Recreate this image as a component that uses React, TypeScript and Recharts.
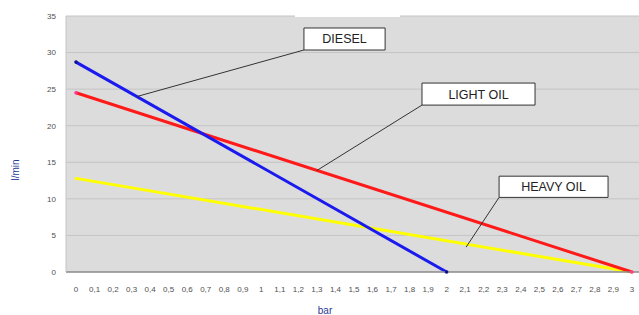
import React from "react";
import {
  LineChart,
  Line,
  XAxis,
  YAxis,
  CartesianGrid,
  ReferenceArea,
  ReferenceLine,
  Label,
} from "recharts";

const dieselPressure = [0, 2];
const dieselFlow = [28.7, 0];
const lightOilPressure = [0, 3];
const lightOilFlow = [24.5, 0];
const heavyOilPressure = [0, 3];
const heavyOilFlow = [12.8, 0];

const xTicks = [
  0, 0.1, 0.2, 0.3, 0.4, 0.5, 0.6, 0.7, 0.8, 0.9, 1, 1.1, 1.2, 1.3, 1.4, 1.5,
  1.6, 1.7, 1.8, 1.9, 2, 2.1, 2.2, 2.3, 2.4, 2.5, 2.6, 2.7, 2.8, 2.9, 3,
];
const yTicks = [0, 5, 10, 15, 20, 25, 30, 35];

const seriesNames = ["DIESEL", "LIGHT OIL", "HEAVY OIL"];

// callout boxes (data coordinates) and leader lines
const calloutBoxes = [
  { x1: 1.23, x2: 1.668, y1: 30.35, y2: 33.36 },
  { x1: 1.867, x2: 2.477, y1: 22.82, y2: 25.83 },
  { x1: 2.283, x2: 2.871, y1: 10.2, y2: 13.1 },
];
const leaderLines = [
  [{ x: 1.23, y: 30.35 }, { x: 0.33, y: 24.0 }],
  [{ x: 1.867, y: 22.82 }, { x: 1.3, y: 13.88 }],
  [{ x: 2.283, y: 10.2 }, { x: 2.105, y: 3.4 }],
];

const toRows = (xs: number[], ys: number[]) =>
  xs.map((x, i) => ({ x, y: ys[i] }));

const fmt = (v: number) => String(v).replace(".", ",");

export default function App() {
  const font = "'Liberation Sans', Arial, sans-serif";
  return (
    <div style={{ position: "absolute", left: 0, top: 0, width: 639, height: 315, background: "#fff" }}>
      <LineChart
        width={639}
        height={315}
        margin={{ top: 16, right: 0, left: 0, bottom: 13 }}
      >
        <CartesianGrid
          vertical={false}
          fill="#dcdcdc"
          stroke="#c4c4c4"
          horizontalValues={[5, 10, 15, 20, 25, 30, 35]}
        />
        <XAxis
          type="number"
          dataKey="x"
          domain={[-0.054, 3.038]}
          ticks={xTicks}
          tickFormatter={fmt}
          interval={0}
          tick={{ fontSize: 8, fill: "#505050", fontFamily: font }}
          tickLine={false}
          tickMargin={8}
          axisLine={{ stroke: "#8a8a8a", strokeWidth: 1.5 }}
          height={30}
          allowDataOverflow
        />
        <YAxis
          type="number"
          domain={[0, 35]}
          ticks={yTicks}
          tick={{ fontSize: 8, fill: "#505050", fontFamily: font }}
          tickLine={false}
          tickMargin={4}
          axisLine={{ stroke: "#c4c4c4" }}
          width={66}
        />
        <Line
          data={toRows(heavyOilPressure, heavyOilFlow)}
          dataKey="y"
          name={seriesNames[2]}
          stroke="#ffff00"
          strokeWidth={3}
          dot={{ r: 1.5, fill: "#ffff00", stroke: "none" }}
          isAnimationActive={false}
        />
        <Line
          data={toRows(lightOilPressure, lightOilFlow)}
          dataKey="y"
          name={seriesNames[1]}
          stroke="#ff1a1a"
          strokeWidth={3}
          dot={{ r: 1.8, fill: "#ff3399", stroke: "none" }}
          isAnimationActive={false}
        />
        <Line
          data={toRows(dieselPressure, dieselFlow)}
          dataKey="y"
          name={seriesNames[0]}
          stroke="#1a1aee"
          strokeWidth={3}
          dot={{ r: 1.8, fill: "#10108a", stroke: "none" }}
          isAnimationActive={false}
        />
        {leaderLines.map((seg, i) => (
          <ReferenceLine
            key={"l" + i}
            segment={seg}
            stroke="#333"
            strokeWidth={1}
          />
        ))}
        {calloutBoxes.map((b, i) => (
          <ReferenceArea
            key={"b" + i}
            x1={b.x1}
            x2={b.x2}
            y1={b.y1}
            y2={b.y2}
            fill="#ffffff"
            fillOpacity={1}
            stroke="#333"
            strokeWidth={1}
          >
            <Label
              value={seriesNames[i]}
              position="center"
              fill="#222"
              fontSize={12.5}
              fontFamily={font}
            />
          </ReferenceArea>
        ))}
      </LineChart>
      <div
        style={{
          position: "absolute",
          left: 295,
          top: 0,
          width: 105,
          height: 17,
          background: "#fff",
        }}
      />
      <div
        style={{
          position: "absolute",
          left: 15,
          top: 170,
          transform: "translate(-50%, -50%) rotate(-90deg)",
          color: "#1f3a93",
          fontFamily: font,
          fontSize: 10,
          whiteSpace: "nowrap",
        }}
      >
        l/min
      </div>
      <div
        style={{
          position: "absolute",
          left: 325,
          top: 310,
          transform: "translate(-50%, -50%)",
          color: "#1f3a93",
          fontFamily: font,
          fontSize: 10,
          whiteSpace: "nowrap",
        }}
      >
        bar
      </div>
    </div>
  );
}
